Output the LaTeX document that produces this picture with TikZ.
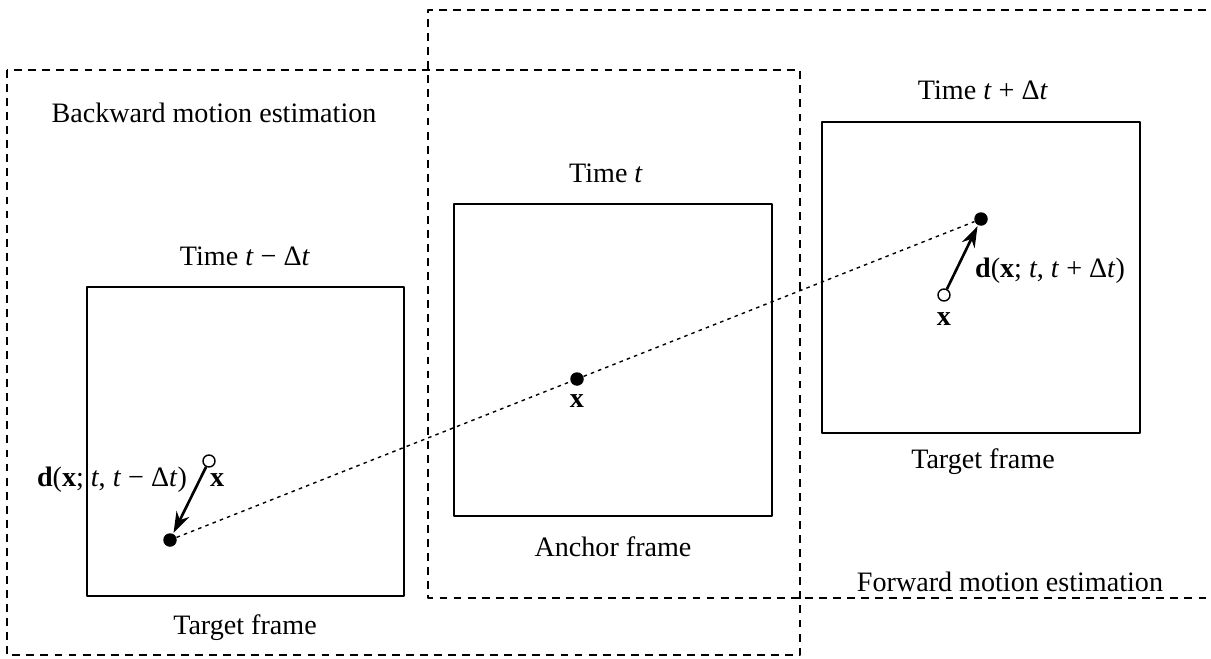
\documentclass[tikz,border=0pt]{standalone}
\usepackage{fontspec}
\setmainfont{Liberation Serif}
\usetikzlibrary{arrows.meta}
\tikzset{
  region/.style={line width=0.8pt, dash pattern=on 4.5pt off 3.5pt},
  frame/.style={line width=1pt},
  track/.style={line width=0.8pt, dash pattern=on 2pt off 2.4pt},
  vec/.style={line width=1.5pt, -{Stealth[length=12pt,width=8pt]}, shorten >=0.5pt},
  full/.style={circle, fill, inner sep=0pt, minimum size=0.27cm},
  hollow/.style={circle, draw, fill=white, line width=0.8pt, inner sep=0pt, minimum size=0.24cm},
  lbl/.style={inner sep=1pt}
}
\newcommand{\tm}{\textit{t}}
\begin{document}
\begin{tikzpicture}[x=0.02cm, y=-0.02cm, line join=round, font=\fontsize{16}{19}\selectfont]
  \useasboundingbox (0,0) rectangle (1211,659);
  %Vùng ước lượng
  \draw[region] (7,70) rectangle (800,655);
  \draw[region] (1220,10) -- (428,10) -- (428,598) -- (1220,598);
  %Các khung hình
  \draw[frame] (87,287) rectangle (404,596);
  \draw[frame] (454,204) rectangle (772,516);
  \draw[frame] (822,122) rectangle (1140,433);
  %Nhãn
  \node[lbl] (bwd) at (214,113) {Backward motion estimation};
  \node[lbl] (fwd) at (1010,582) {Forward motion estimation};
  \node[lbl] (tb) at (245,256) {Time \tm{} − Δ\tm};
  \node[lbl] (ta) at (606,173) {Time \tm};
  \node[lbl] (tf) at (983,90) {Time \tm{} + Δ\tm};
  \node[lbl] (fb) at (245,628) {Target frame};
  \node[lbl] (fa) at (613,547) {Anchor frame};
  \node[lbl] (ff) at (983,462) {Target frame};
  %Các điểm
  \node[full] (pb) at (170,540) {};
  \node[hollow] (xb) at (209,461) {};
  \node[full] (pa) at (577,379) {};
  \node[full] (pf) at (981,219) {};
  \node[hollow] (xf) at (944,295) {};
  \draw[track] (pb) -- (pa) -- (pf);
  \draw[vec] (xb) -- (pb);
  \draw[vec] (xf) -- (pf);
  \node[lbl, anchor=west] (xbl) at (208,480) {\textbf{x}};
  \node[lbl, anchor=north] (xal) at (577,392) {\textbf{x}};
  \node[lbl, anchor=north] (xfl) at (944,310) {\textbf{x}};
  \node[lbl, anchor=east] (db) at (189,480) {\textbf{d}(\textbf{x}; \tm, \tm{} − Δ\tm)};
  \node[lbl, anchor=west] (df) at (973,271) {\textbf{d}(\textbf{x}; \tm, \tm{} + Δ\tm)};
\end{tikzpicture}
\end{document}
